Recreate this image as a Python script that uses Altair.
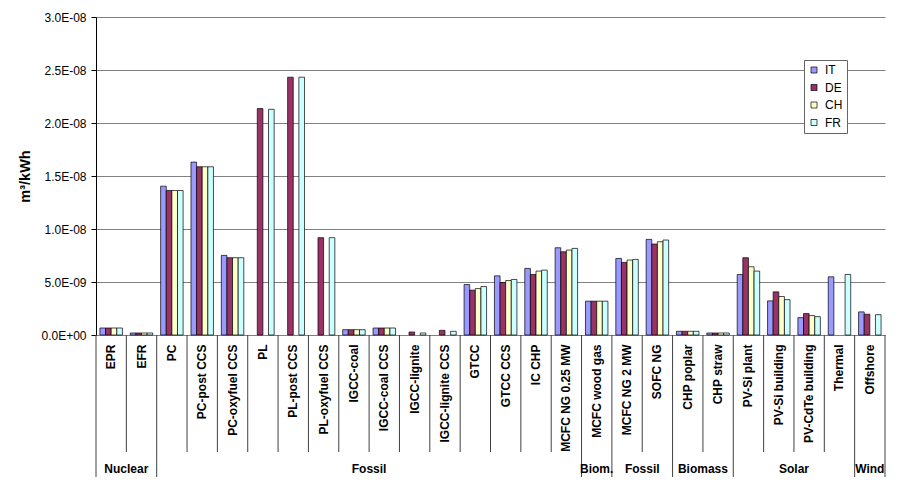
import altair as alt
import pandas as pd

categories = ["EPR", "EFR", "PC", "PC-post CCS", "PC-oxyfuel CCS", "PL", "PL-post CCS",
              "PL-oxyfuel CCS", "IGCC-coal", "IGCC-coal CCS", "IGCC-lignite", "IGCC-lignite CCS",
              "GTCC", "GTCC CCS", "IC CHP", "MCFC NG 0.25 MW", "MCFC wood gas", "MCFC NG 2 MW",
              "SOFC NG", "CHP poplar", "CHP straw", "PV-Si plant", "PV-Si building",
              "PV-CdTe building", "Thermal", "Offshore"]

series = ["IT", "DE", "CH", "FR"]
colors = ["#9999FF", "#993366", "#FFFFCC", "#CCFFFF"]

it = [6.6e-10, 1.9e-10, 1.404e-8, 1.631e-8, 7.51e-9, None, None, None, 5.0e-10, 6.6e-10,
      None, None, 4.76e-9, 5.58e-9, 6.28e-9, 8.23e-9, 3.19e-9, 7.22e-9, 9.02e-9, 3.5e-10,
      1.9e-10, 5.71e-9, 3.22e-9, 1.64e-9, 5.49e-9, 2.18e-9]
de = [6.6e-10, 1.9e-10, 1.363e-8, 1.587e-8, 7.29e-9, 2.136e-8, 2.432e-8, 9.18e-9, 5.0e-10, 6.6e-10,
      2.8e-10, 4.4e-10, 4.23e-9, 4.95e-9, 5.71e-9, 7.85e-9, 3.19e-9, 6.85e-9, 8.58e-9, 3.5e-10,
      1.9e-10, 7.29e-9, 4.07e-9, 2.02e-9, None, 1.96e-9]
ch = [6.6e-10, 1.9e-10, 1.363e-8, 1.587e-8, 7.29e-9, None, None, None, 5.0e-10, 6.6e-10,
      None, None, 4.38e-9, 5.14e-9, 6.03e-9, 8.01e-9, 3.19e-9, 7.07e-9, 8.80e-9, 3.5e-10,
      1.9e-10, 6.44e-9, 3.63e-9, 1.83e-9, None, None]
fr = [6.6e-10, 1.9e-10, 1.363e-8, 1.587e-8, 7.29e-9, 2.129e-8, 2.432e-8, 9.18e-9, 5.0e-10, 6.6e-10,
      1.9e-10, 3.5e-10, 4.57e-9, 5.24e-9, 6.12e-9, 8.17e-9, 3.19e-9, 7.13e-9, 8.96e-9, 3.5e-10,
      1.9e-10, 6.03e-9, 3.34e-9, 1.73e-9, 5.71e-9, 1.92e-9]

group_names = ["Nuclear", "Fossil", "Biom.", "Fossil", "Biomass", "Solar", "Wind"]
group_sizes = [2, 14, 1, 2, 2, 4, 1]

y_ticks = [0, 5e-9, 1e-8, 1.5e-8, 2e-8, 2.5e-8, 3e-8]

FONT = "Liberation Sans"

# ---- tables ----
rows = []
for s, vals in zip(series, [it, de, ch, fr]):
    for c, v in zip(categories, vals):
        if v is not None:
            rows.append({"category": c, "series": s, "value": v})
df = pd.DataFrame(rows)

starts = []
acc = 0
for n in group_sizes:
    starts.append(acc)
    acc += n
long_cats = [categories[i] for i in starts]
short_cats = [c for i, c in enumerate(categories) if i not in starts]

lab_even, lab_odd = [], []
for name, st, n in zip(group_names, starts, group_sizes):
    anchor = categories[st + n // 2]
    (lab_even if n % 2 == 0 else lab_odd).append({"category": anchor, "label": name})

x_scale = alt.Scale(domain=categories, paddingInner=0, paddingOuter=0)

bars = alt.Chart(df).mark_bar(stroke="black", strokeWidth=0.7).encode(
    x=alt.X("category:N", scale=x_scale, title=None,
            axis=alt.Axis(labelAngle=-90, labelFont=FONT, labelFontSize=12,
                          labelFontWeight="bold", labelColor="black", ticks=False,
                          domainColor="#808080", labelPadding=9, grid=False,
                          labelLimit=300)),
    xOffset=alt.XOffset("series:N", scale=alt.Scale(domain=series, paddingInner=0, paddingOuter=0.7)),
    y=alt.Y("value:Q", scale=alt.Scale(domain=[0, 3e-8]),
            axis=alt.Axis(values=y_ticks, title="m³/kWh", titleFont=FONT, titleFontSize=14.5,
                          titleFontWeight="bold", titleColor="black", titlePadding=8,
                          labelFont=FONT, labelFontSize=12, labelColor="black",
                          labelExpr="datum.value == 0 ? '0.0E+00' : replace(replace(format(datum.value, '.1e'), 'e-', 'E-0'), 'e\u2212', 'E-0')",
                          grid=True, gridColor="#808080", gridWidth=1,
                          tickSize=5, tickColor="black", domainColor="black", labelPadding=5)),
    color=alt.Color("series:N", scale=alt.Scale(domain=series, range=colors),
                    legend=alt.Legend(title=None, orient="none", legendX=708, legendY=43,
                                      strokeColor="#666666", fillColor="white", padding=4,
                                      symbolType="square", symbolSize=36,
                                      symbolStrokeColor="black", symbolStrokeWidth=0.7,
                                      labelFont=FONT, labelFontSize=12, labelColor="black",
                                      rowPadding=5.5, labelOffset=5)),
)

short_rules = alt.Chart(pd.DataFrame({"category": short_cats})).mark_rule(
    color="#404040", strokeWidth=1).encode(
    x=alt.X("category:N", scale=x_scale, bandPosition=0, title=None),
    y=alt.value(318), y2=alt.value(435))

long_rules = alt.Chart(pd.DataFrame({"category": long_cats})).mark_rule(
    color="#404040", strokeWidth=1).encode(
    x=alt.X("category:N", scale=x_scale, bandPosition=0, title=None),
    y=alt.value(318), y2=alt.value(460))

end_rule = alt.Chart(pd.DataFrame({"category": [categories[-1]]})).mark_rule(
    color="#404040", strokeWidth=1).encode(
    x=alt.X("category:N", scale=x_scale, bandPosition=1, title=None),
    y=alt.value(318), y2=alt.value(460))

text_style = dict(font=FONT, fontSize=12, fontWeight="bold", color="black",
                  align="center", baseline="middle")
labels_even = alt.Chart(pd.DataFrame(lab_even)).mark_text(**text_style).encode(
    x=alt.X("category:N", scale=x_scale, bandPosition=0, title=None),
    y=alt.value(452), text="label:N")
labels_odd = alt.Chart(pd.DataFrame(lab_odd)).mark_text(**text_style).encode(
    x=alt.X("category:N", scale=x_scale, bandPosition=0.5, title=None),
    y=alt.value(452), text="label:N")

chart = alt.layer(bars, short_rules, long_rules, end_rule, labels_even, labels_odd).properties(
    width=789, height=318, autosize="none",
    padding={"left": 88, "top": 9, "right": 12, "bottom": 150},
    background="white",
).configure_view(stroke=None)

chart.save("out.html", embed_options={"renderer": "svg", "actions": False})
